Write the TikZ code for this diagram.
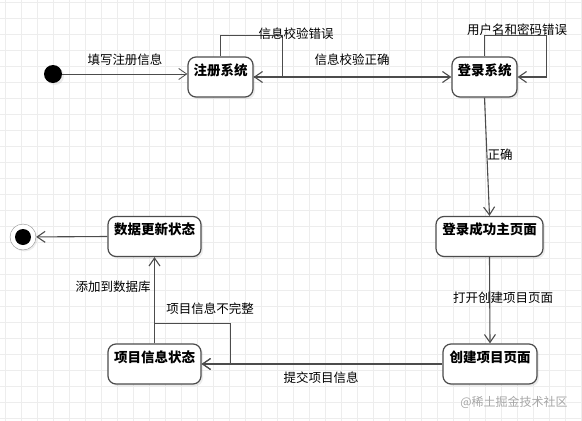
\documentclass[tikz,border=0pt]{standalone}
\usepackage{fontspec}
\setmainfont{Noto Sans CJK SC}
\usetikzlibrary{arrows.meta,shadows}

\begin{document}
\begin{tikzpicture}[x=1pt, y=-1pt,
    state/.style={draw=black!70, line width=1.2pt, rounded corners=8pt, fill=white,
      drop shadow={shadow xshift=2pt, shadow yshift=-2pt, opacity=0.15},
      font=\fontsize{13.5}{14}\selectfont\bfseries, inner sep=3pt,
      text height=15pt, text depth=19pt},
    edge/.style={draw=black!70, line width=1.1pt, -{Straight Barb[length=8pt,width=11pt]}},
    lbl/.style={font=\fontsize{12.5}{14}\selectfont}]
  \useasboundingbox (0,0) rectangle (582,421);

  % Grid
  \foreach \gx in {5,21,...,581} \draw[black!7, line width=0.6pt] (\gx,0) -- (\gx,421);
  \foreach \gy in {2,18,...,420} \draw[black!7, line width=0.6pt] (0,\gy) -- (582,\gy);

  % States
  \node[circle, fill=black, minimum size=18pt, inner sep=0pt,
    drop shadow={shadow xshift=2pt, shadow yshift=-2pt, opacity=0.15}] (start) at (53,74) {};
  \node[state, minimum width=65pt] (reg) at (220.5,77) {注册系统};
  \node[state, minimum width=65pt] (login) at (484.5,77) {登录系统};
  \node[state, minimum width=107pt] (home) at (489.5,236.5) {登录成功主页面};
  \node[state, minimum width=94pt] (create) at (490,364) {创建项目页面};
  \node[state, minimum width=93pt] (info) at (154.5,364) {项目信息状态};
  \node[state, minimum width=93pt] (update) at (154.5,236.5) {数据更新状态};
  \node[circle, draw=black!45, fill=white, minimum size=26pt, inner sep=0pt,
    drop shadow={shadow xshift=1.5pt, shadow yshift=-1.5pt, opacity=0.15}] (stop) at (23,237) {};
  \fill (stop) circle (8);

  % Transitions
  \draw[edge, line width=0.8pt] (start) -- (start -| reg.west);
  \draw[edge] (reg.north) -- ++(0,-21) -| ([xshift=29pt]reg.east) -- (reg.east);
  \draw[edge] (reg.east) -- (login.west);
  \draw[edge] (login.north) -- ++(0,-21) -| ([xshift=29pt]login.east) -- (login.east);
  \draw[edge] (login.south) -- (home.north);
  \draw[edge] (home.south) -- (create.north);
  \draw[edge] (create.west) -- (info.east);
  \draw[edge] (info.north) -- ++(0,-20) -| ([xshift=29pt]info.east) -- (info.east);
  \draw[edge] (info.north) -- (update.south);
  \draw[edge] (update.west) -- (stop);

  % Labels
  \node[lbl] (l1) at (125,60) {填写注册信息};
  \node[lbl] (l2) at (296,34) {信息校验错误};
  \node[lbl] (l3) at (352,60) {信息校验正确};
  \node[lbl] (l4) at (517,30) {用户名和密码错误};
  \node[lbl] (l5) at (500,155) {正确};
  \node[lbl] (l6) at (503,298) {打开创建项目页面};
  \node[lbl] (l7) at (321,378) {提交项目信息};
  \node[lbl] (l8) at (210,309) {项目信息不完整};
  \node[lbl] (l9) at (113,287) {添加到数据库};
  \node[font=\fontsize{12}{14}\selectfont, black!35] (mark) at (514,402) {@稀土掘金技术社区};
\end{tikzpicture}
\end{document}
